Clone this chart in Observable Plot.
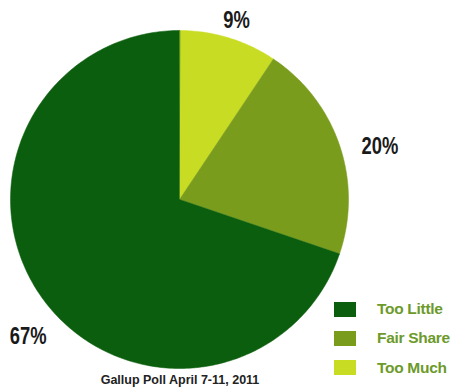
<!DOCTYPE html>
<html>
<head>
<meta charset="utf-8">
<script src="https://cdn.jsdelivr.net/npm/d3@7"></script>
<script src="https://cdn.jsdelivr.net/npm/@observablehq/plot@0.6"></script>
<style>
  html, body { margin: 0; padding: 0; background: #fff; }
  #wrap { position: relative; width: 452px; height: 391px; overflow: hidden; }
  #legend { position: absolute; left: 334px; top: 294.5px; font-family: "Liberation Sans", Arial, sans-serif; font-weight: bold; font-size: 15.5px; letter-spacing: -0.3px; color: #6c9a2b; }
  .row { display: flex; align-items: center; height: 29.3px; }
  .sw { width: 22px; height: 15px; margin-right: 21px; }
  #caption { position: absolute; left: 0; width: 360px; top: 373px; text-align: center; font-family: "Liberation Sans", Arial, sans-serif; font-weight: bold; font-size: 12.5px; color: #222; }
</style>
</head>
<body>
<div id="wrap"></div>
<script>
// Data
const categories = ["Too Much", "Fair Share", "Too Little"];
const values = [9, 20, 67];
const labels = ["9%", "20%", "67%"];
const colors = ["#c9dc24", "#7a9c1c", "#0b5e0d"];
const legendOrder = ["Too Little", "Fair Share", "Too Much"];
const captionText = "Gallup Poll April 7-11, 2011";

// Build slices (clockwise from 12 o'clock)
const total = d3.sum(values);
let acc = 0;
const slices = categories.map((c, i) => {
  const a0 = acc / total * 2 * Math.PI;
  acc += values[i];
  const a1 = acc / total * 2 * Math.PI;
  return {cat: c, a0, a1, label: labels[i]};
});
const pts = [];
for (const s of slices) {
  pts.push({cat: s.cat, x: 0, y: 0});
  const n = Math.max(2, Math.ceil((s.a1 - s.a0) / (Math.PI / 180)));
  for (let k = 0; k <= n; k++) {
    const a = s.a0 + (s.a1 - s.a0) * k / n;
    pts.push({cat: s.cat, x: Math.sin(a), y: Math.cos(a)});
  }
}
// label placement (radius factor, angle nudge in degrees)
const labelPlace = {"Too Much": [1.11, 0.8], "Fair Share": [1.227, 3.85], "Too Little": [1.21, -6.6]};
const labelPts = slices.map(s => {
  const [r, da] = labelPlace[s.cat];
  const a = (s.a0 + s.a1) / 2 + da * Math.PI / 180;
  return {x: r * Math.sin(a), y: r * Math.cos(a), text: s.label};
});

const chart = Plot.plot({
  width: 452,
  height: 391,
  margin: 0,
  x: {domain: [-1, 1], range: [10, 348], axis: null},
  y: {domain: [-1, 1], range: [368, 30], axis: null},
  color: {domain: categories, range: colors},
  style: {background: "#fff", overflow: "visible"},
  marks: [
    Plot.line(pts, {x: "x", y: "y", z: "cat", fill: "cat", stroke: "cat", strokeWidth: 0.5, curve: "linear-closed"}),
    Plot.text(labelPts, {x: "x", y: "y", text: "text", fontSize: 23, fontWeight: "bold", fill: "#1a1a1a",
      fontFamily: "'Liberation Sans', Arial, sans-serif", className: "pct"})
  ]
});
const wrap = document.getElementById("wrap");
wrap.appendChild(chart);

// condense the percentage labels horizontally (narrow look)
chart.querySelectorAll(".pct text").forEach(t => {
  const w = t.getComputedTextLength();
  t.setAttribute("textLength", (w * 0.8).toFixed(1));
  t.setAttribute("lengthAdjust", "spacingAndGlyphs");
});

// Legend
const leg = document.createElement("div");
leg.id = "legend";
for (const c of legendOrder) {
  const row = document.createElement("div");
  row.className = "row";
  const sw = document.createElement("div");
  sw.className = "sw";
  sw.style.background = colors[categories.indexOf(c)];
  const t = document.createElement("span");
  t.textContent = c;
  row.appendChild(sw); row.appendChild(t);
  leg.appendChild(row);
}
wrap.appendChild(leg);

const cap = document.createElement("div");
cap.id = "caption";
cap.textContent = captionText;
wrap.appendChild(cap);
</script>
</body>
</html>
